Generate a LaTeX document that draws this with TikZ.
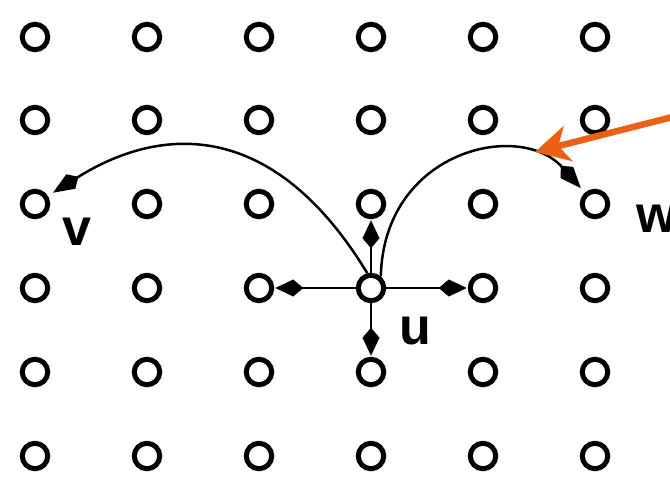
\documentclass[tikz,border=0pt]{standalone}
\usepackage{fontspec}
\setmainfont{Liberation Sans}
\usetikzlibrary{arrows.meta}
\definecolor{pointerorange}{RGB}{235,96,18}
\begin{document}
\begin{tikzpicture}[x=1bp,y=-1bp,
  site/.style={circle,draw,line width=5bp,minimum size=25.5bp,inner sep=0pt,fill=white},
  hop/.style={line width=2.5bp,-{Kite[length=28bp,width=17bp,inset=10bp]},shorten >=1bp},
  jump/.style={line width=2.5bp,-{Kite[length=30bp,width=17bp,inset=9bp]},shorten >=6bp},
  lbl/.style={font=\bfseries\fontsize{52bp}{52bp}\selectfont,inner sep=0pt},
  pointer/.style={draw=pointerorange,line width=6.5bp,
    -{Stealth[length=34bp,width=36bp,inset=10bp,fill=pointerorange]}}]
\useasboundingbox (0,0) rectangle (670,479);
\clip (0,0) rectangle (670,479);

% lattice of sites, n<column><row>
\foreach \c [count=\i] in {35,147,259,371,483,595}
  \foreach \r [count=\j] in {37,120,204,288,372,456}
    \node[site] (n\i\j) at (\c,\r) {};

% nearest-neighbour hops from u
\draw[hop] (n44) -- (n43);
\draw[hop] (n44) -- (n54);
\draw[hop] (n44) -- (n34);
\draw[hop] (n44) -- (n45);

% long-range jumps from u to v and w
\draw[jump] (n44.104) .. controls (273,118) and (161,125) .. (n13);
\draw[jump] (n44.50) .. controls (384,150) and (520,120) .. (n63);

% labels
\node[lbl] (vlabel) at (77,232) {v};
\node[lbl] (ulabel) at (415,331) {u};
\node[lbl] (wlabel) at (657,219) {w};

% highlight pointer
\coordinate (src) at (700,110);
\coordinate (tgt) at (535,152);
\draw[pointer] (src) -- (tgt);
\end{tikzpicture}
\end{document}
